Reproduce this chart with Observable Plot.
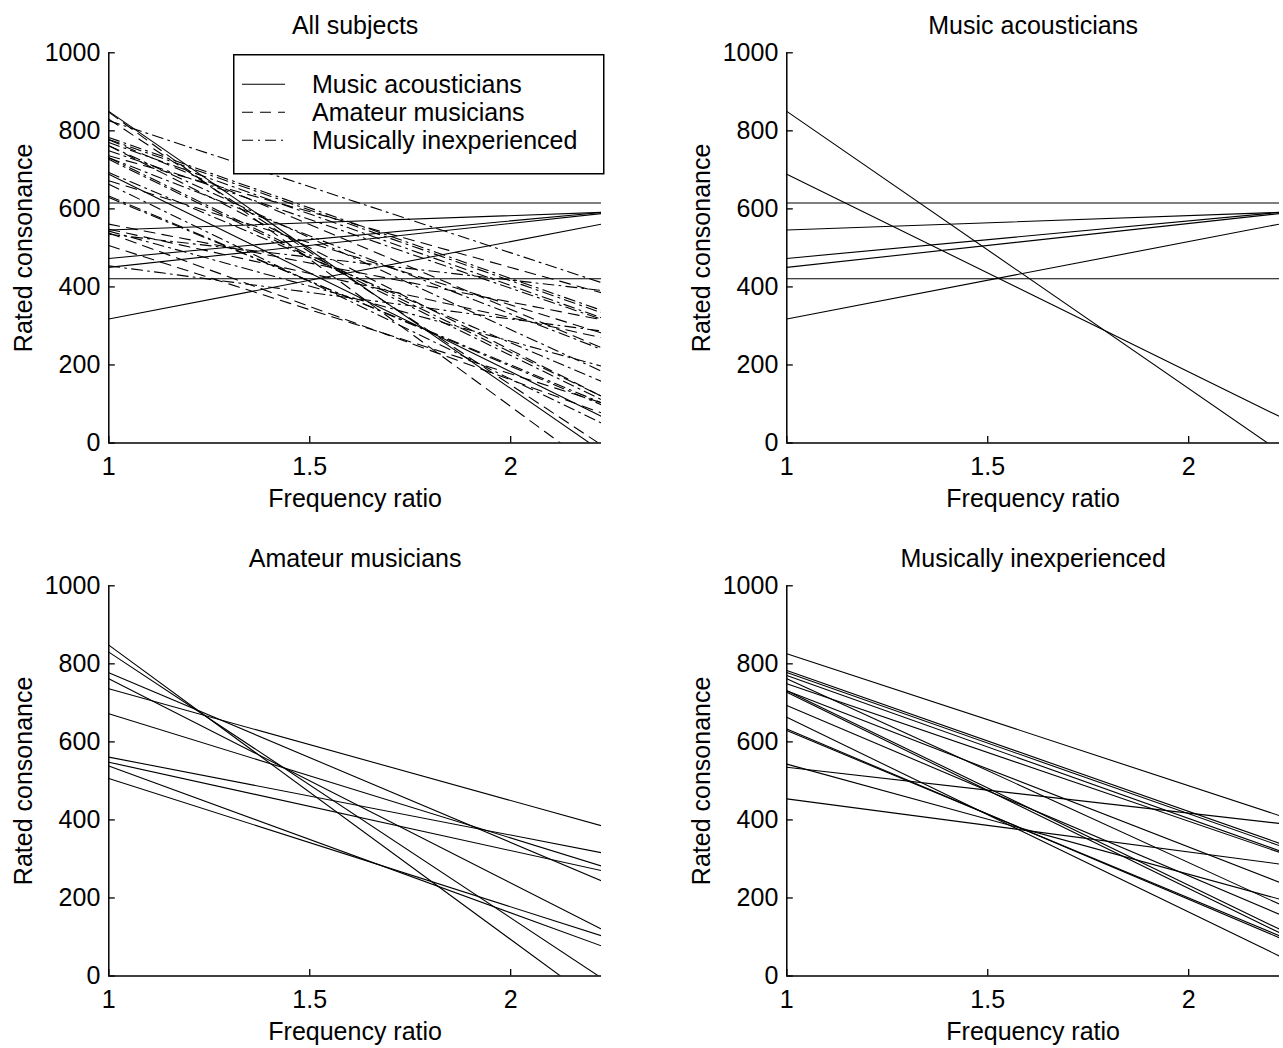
<!DOCTYPE html>
<html>
<head>
<meta charset="utf-8">
<script src="https://cdn.jsdelivr.net/npm/d3@7"></script>
<script src="https://cdn.jsdelivr.net/npm/@observablehq/plot@0.6"></script>
<style>
  body { margin: 0; background: #fff; }
  #fig { position: relative; width: 1283px; height: 1048px; overflow: hidden; background: #fff; }
  .panel { position: absolute; }
</style>
</head>
<body>
<div id="fig"></div>
<script>
// ---------------- data ----------------
const xDomain = [1, 2.226];          // frequency ratio range
const yDomain = [0, 1000];           // rated consonance range
const xTicks = [1, 1.5, 2];
const yTicks = [0, 200, 400, 600, 800, 1000];
const xLabel = "Frequency ratio";
const yLabel = "Rated consonance";
const groupNames = ["Music acousticians", "Amateur musicians", "Musically inexperienced"];
const panelTitles = ["All subjects", "Music acousticians", "Amateur musicians", "Musically inexperienced"];

// Each subject's regression line: value at ratio 1 and at the right end of the range
const acousticiansStart = [850, 689, 615, 546, 473, 450, 421, 318];
const acousticiansEnd   = [-21,  68, 615, 591, 591, 588, 421, 561];

const amateursStart = [848, 830, 777, 762, 736, 672, 561, 548, 538, 506];
const amateursEnd   = [-77,  -5, 244, 120, 385, 282, 316, 270,  77, 103];

const inexperiencedStart = [826, 783, 778, 770, 749, 762, 731, 535, 727, 731, 693, 663, 633, 629, 543, 454];
const inexperiencedEnd   = [411, 340, 334, 321, 317, 184, 240, 391, 111, 120, 158,  51,  98, 103, 197, 287];

// ---------------- build tables ----------------
function toRows(starts, ends, group) {
  return starts.flatMap((s, i) => [
    {group, id: group + "-" + i, x: xDomain[0], y: s},
    {group, id: group + "-" + i, x: xDomain[1], y: ends[i]}
  ]);
}
const acRows = toRows(acousticiansStart, acousticiansEnd, groupNames[0]);
const amRows = toRows(amateursStart, amateursEnd, groupNames[1]);
const inRows = toRows(inexperiencedStart, inexperiencedEnd, groupNames[2]);

const dashes = {};
dashes[groupNames[0]] = null;
dashes[groupNames[1]] = "11,7";
dashes[groupNames[2]] = "11,5,2,5";

const FONT = "'Liberation Sans', Arial, Helvetica, sans-serif";

const W = 605, H = 520, ML = 108.3, MR = 4, MT = 52.3, MB = 77.5;
const plotW = W - ML - MR, plotH = H - MT - MB;
const TICK = 6.5;

function lineMark(rows, dash) {
  return Plot.line(rows, {
    x: "x", y: "y", z: "id",
    stroke: "black", strokeWidth: 1.1,
    strokeDasharray: dash,
    clip: true
  });
}

function panel(title, lineMarks) {
  return Plot.plot({
    width: W,
    height: H,
    marginLeft: ML,
    marginRight: MR,
    marginTop: MT,
    marginBottom: MB,
    x: {domain: xDomain},
    y: {domain: yDomain},
    style: {fontFamily: FONT, fontSize: "25px", background: "white", color: "black", overflow: "visible"},
    marks: [
      ...lineMarks,
      // inward tick marks (MATLAB style)
      Plot.ruleX(xTicks, {stroke: "black", strokeWidth: 1.3, insetTop: plotH - TICK}),
      Plot.ruleY(yTicks, {stroke: "black", strokeWidth: 1.3, insetRight: plotW - TICK}),
      // axis lines
      Plot.ruleX([xDomain[0]], {stroke: "black", strokeWidth: 1.5}),
      Plot.ruleY([yDomain[0]], {stroke: "black", strokeWidth: 1.5}),
      Plot.axisX({ticks: xTicks, tickSize: 0, tickPadding: 14, tickFormat: d => String(d), label: null}),
      Plot.axisY({ticks: yTicks, tickSize: 0, tickPadding: 8.5, tickFormat: d => String(d), label: null}),
      Plot.text([title], {text: d => d, frameAnchor: "top", dy: -19, lineAnchor: "bottom", fill: "black"}),
      Plot.text([xLabel], {text: d => d, frameAnchor: "bottom", dy: 46, lineAnchor: "top", fill: "black"}),
      Plot.text([yLabel], {text: d => d, frameAnchor: "left", textAnchor: "middle", dx: -77, rotate: -90, lineAnchor: "bottom", fill: "black"})
    ]
  });
}

const fig = document.getElementById("fig");
const positions = [[0, 0], [678, 0], [0, 533], [678, 533]];
const panels = [
  panel(panelTitles[0], [
    lineMark(acRows, dashes[groupNames[0]]),
    lineMark(amRows, dashes[groupNames[1]]),
    lineMark(inRows, dashes[groupNames[2]])
  ]),
  panel(panelTitles[1], [lineMark(acRows, null)]),
  panel(panelTitles[2], [lineMark(amRows, null)]),
  panel(panelTitles[3], [lineMark(inRows, null)])
];
panels.forEach((p, i) => {
  const d = document.createElement("div");
  d.className = "panel";
  d.style.left = positions[i][0] + "px";
  d.style.top = positions[i][1] + "px";
  d.appendChild(p);
  fig.appendChild(d);
});

// ---------------- legend (panel 1) ----------------
const lw = 370, lh = 119;
const leg = d3.create("svg")
  .attr("width", lw + 2).attr("height", lh + 2)
  .style("position", "absolute").style("left", "232.5px").style("top", "53.5px")
  .style("font-family", FONT).style("font-size", "25px");
leg.append("rect").attr("x", 0.75).attr("y", 0.75).attr("width", lw).attr("height", lh)
  .attr("fill", "white").attr("stroke", "black").attr("stroke-width", 1.5);
const rowY = [30.3, 58.3, 86.3];
groupNames.forEach((g, i) => {
  leg.append("line").attr("x1", 9).attr("x2", 52).attr("y1", rowY[i]).attr("y2", rowY[i])
    .attr("stroke", "black").attr("stroke-width", 1.1)
    .attr("stroke-dasharray", dashes[g]);
  leg.append("text").attr("x", 79).attr("y", rowY[i]).attr("dy", "0.35em").text(g);
});
fig.appendChild(leg.node());
</script>
</body>
</html>
